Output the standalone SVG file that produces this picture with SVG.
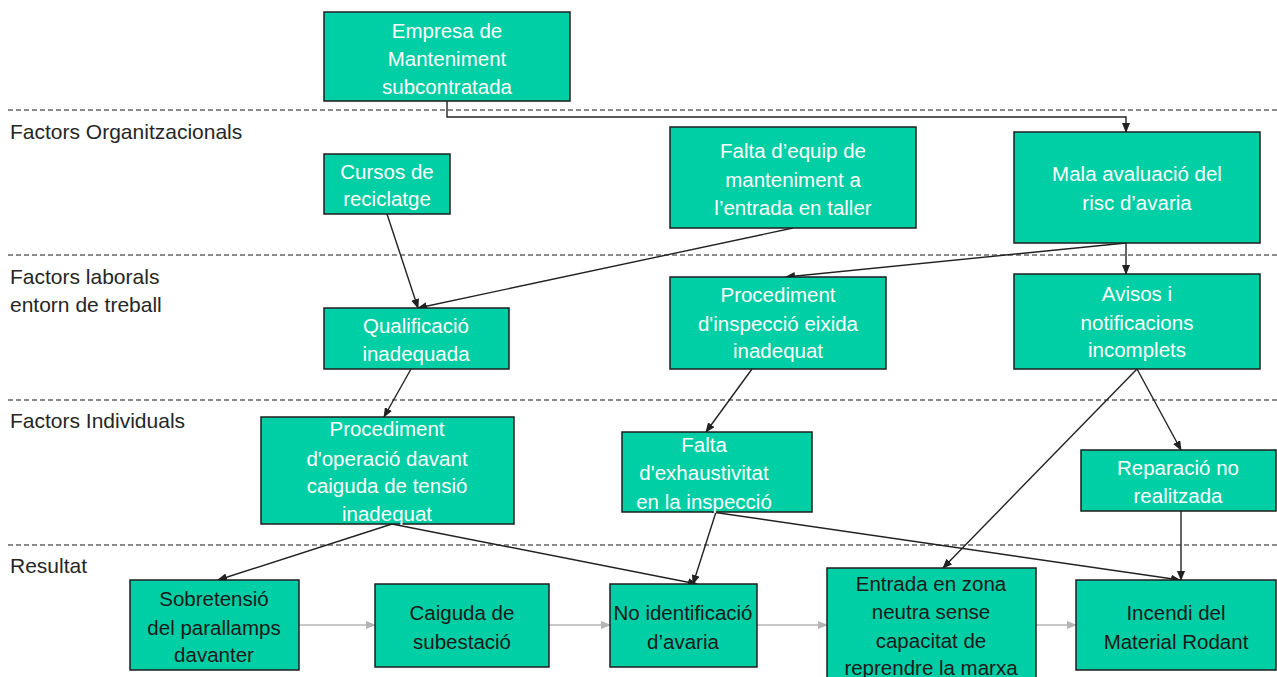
<svg xmlns="http://www.w3.org/2000/svg" width="1277" height="677" viewBox="0 0 1277 677">
  <style>
    .lane { stroke: #8c8c8c; stroke-width: 2; stroke-dasharray: 5 3; fill: none; }
    .lbl { font-family: "Liberation Sans", Arial, sans-serif; font-size: 21px; fill: #262626; }
    .box { fill: #00cea4; stroke: #1e1e1e; stroke-width: 1.5; }
    .t { font-family: "Liberation Sans", Arial, sans-serif; font-size: 20.5px; fill: #ffffff; text-anchor: middle; dominant-baseline: central; }
    .td { fill: #1a1a1a; }
    .c { stroke: #222222; stroke-width: 1.4; fill: none; marker-end: url(#ah); }
    .g { stroke: #b4b4b4; stroke-width: 1.4; fill: none; marker-end: url(#ag); }
  </style>
  <defs>
    <marker id="ah" markerUnits="userSpaceOnUse" markerWidth="10" markerHeight="8" refX="9" refY="4" orient="auto">
      <path d="M0,0 L10,4 L0,8 Z" fill="#222222"/>
    </marker>
    <marker id="ag" markerUnits="userSpaceOnUse" markerWidth="10" markerHeight="8" refX="9" refY="4" orient="auto">
      <path d="M0,0 L10,4 L0,8 Z" fill="#b4b4b4"/>
    </marker>
  </defs>

  <!-- swimlane separators and headings -->
  <g id="lanes">
    <line class="lane" x1="8" y1="110" x2="1277" y2="110"/>
    <line class="lane" x1="8" y1="255" x2="1277" y2="255"/>
    <line class="lane" x1="8" y1="400" x2="1277" y2="400"/>
    <line class="lane" x1="8" y1="545" x2="1277" y2="545"/>
    <text class="lbl" x="10" y="139">Factors Organitzacionals</text>
    <text class="lbl" x="10" y="284">Factors laborals</text>
    <text class="lbl" x="10" y="312">entorn de treball</text>
    <text class="lbl" x="10" y="428">Factors Individuals</text>
    <text class="lbl" x="10" y="573">Resultat</text>
  </g>

  <!-- connectors -->
  <g id="connectors">
    <polyline class="c" points="447,101 447,117 1126,117 1126,132"/>
    <line class="c" x1="387" y1="214" x2="418" y2="308"/>
    <line class="c" x1="793" y1="228" x2="418" y2="308"/>
    <line class="c" x1="1126" y1="243" x2="786" y2="277"/>
    <line class="c" x1="1126" y1="243" x2="1126" y2="274"/>
    <line class="c" x1="411" y1="369" x2="384" y2="417"/>
    <line class="c" x1="752" y1="369" x2="706" y2="432"/>
    <line class="c" x1="1137" y1="369" x2="1181" y2="450"/>
    <line class="c" x1="1137" y1="369" x2="943" y2="568"/>
    <line class="c" x1="392" y1="524" x2="218" y2="580"/>
    <line class="c" x1="392" y1="524" x2="697" y2="584"/>
    <line class="c" x1="716" y1="512" x2="693" y2="584"/>
    <line class="c" x1="712" y1="512" x2="1180" y2="580"/>
    <line class="c" x1="1181" y1="511" x2="1181" y2="580"/>
    <line class="g" x1="299" y1="625" x2="375" y2="625"/>
    <line class="g" x1="549" y1="625" x2="610" y2="625"/>
    <line class="g" x1="757" y1="625" x2="827" y2="625"/>
    <line class="g" x1="1036" y1="625" x2="1076" y2="625"/>
  </g>

  <g id="empresa">
    <rect class="box" x="324" y="12" width="246" height="89"/>
    <text class="t" x="447" y="30">Empresa de</text>
    <text class="t" x="447" y="58">Manteniment</text>
    <text class="t" x="447" y="86">subcontratada</text>
  </g>
  <g id="cursos">
    <rect class="box" x="324" y="154" width="126" height="60"/>
    <text class="t" x="387" y="171">Cursos de</text>
    <text class="t" x="387" y="198">reciclatge</text>
  </g>
  <g id="falta-equip">
    <rect class="box" x="670" y="127" width="246" height="101"/>
    <text class="t" x="793" y="150">Falta d’equip de</text>
    <text class="t" x="793" y="179">manteniment a</text>
    <text class="t" x="793" y="207">l’entrada en taller</text>
  </g>
  <g id="mala-avaluacio">
    <rect class="box" x="1014" y="132" width="246" height="111"/>
    <text class="t" x="1137" y="173">Mala avaluació del</text>
    <text class="t" x="1137" y="202">risc d’avaria</text>
  </g>
  <g id="qualificacio">
    <rect class="box" x="324" y="308" width="185" height="61"/>
    <text class="t" x="416" y="325">Qualificació</text>
    <text class="t" x="416" y="353">inadequada</text>
  </g>
  <g id="proc-inspeccio">
    <rect class="box" x="670" y="277" width="216" height="92"/>
    <text class="t" x="778" y="294">Procediment</text>
    <text class="t" x="778" y="323">d'inspecció eixida</text>
    <text class="t" x="778" y="350">inadequat</text>
  </g>
  <g id="avisos">
    <rect class="box" x="1014" y="274" width="246" height="95"/>
    <text class="t" x="1137" y="293">Avisos i</text>
    <text class="t" x="1137" y="322">notificacions</text>
    <text class="t" x="1137" y="349">incomplets</text>
  </g>
  <g id="proc-operacio">
    <rect class="box" x="261" y="417" width="253" height="107"/>
    <text class="t" x="387" y="428">Procediment</text>
    <text class="t" x="387" y="458">d'operació davant</text>
    <text class="t" x="387" y="485">caiguda de tensió</text>
    <text class="t" x="387" y="513">inadequat</text>
  </g>
  <g id="falta-exhaustivitat">
    <rect class="box" x="622" y="432" width="190" height="80"/>
    <text class="t" x="704" y="444">Falta</text>
    <text class="t" x="704" y="472">d'exhaustivitat</text>
    <text class="t" x="704" y="501">en la inspecció</text>
  </g>
  <g id="reparacio">
    <rect class="box" x="1081" y="450" width="195" height="61"/>
    <text class="t" x="1178" y="467">Reparació no</text>
    <text class="t" x="1178" y="495">realitzada</text>
  </g>
  <g id="sobretensio">
    <rect class="box" x="130" y="580" width="169" height="90"/>
    <text class="t td" x="214" y="598">Sobretensió</text>
    <text class="t td" x="214" y="627">del parallamps</text>
    <text class="t td" x="214" y="654">davanter</text>
  </g>
  <g id="caiguda">
    <rect class="box" x="375" y="584" width="174" height="83"/>
    <text class="t td" x="462" y="612">Caiguda de</text>
    <text class="t td" x="462" y="641">subestació</text>
  </g>
  <g id="no-identificacio">
    <rect class="box" x="610" y="584" width="147" height="83"/>
    <text class="t td" x="683" y="612">No identificació</text>
    <text class="t td" x="683" y="641">d’avaria</text>
  </g>
  <g id="entrada">
    <rect class="box" x="827" y="568" width="209" height="115"/>
    <text class="t td" x="931" y="583">Entrada en zona</text>
    <text class="t td" x="931" y="611">neutra sense</text>
    <text class="t td" x="931" y="640">capacitat de</text>
    <text class="t td" x="931" y="667">reprendre la marxa</text>
  </g>
  <g id="incendi">
    <rect class="box" x="1076" y="580" width="200" height="90"/>
    <text class="t td" x="1176" y="612">Incendi del</text>
    <text class="t td" x="1176" y="641">Material Rodant</text>
  </g>
</svg>
